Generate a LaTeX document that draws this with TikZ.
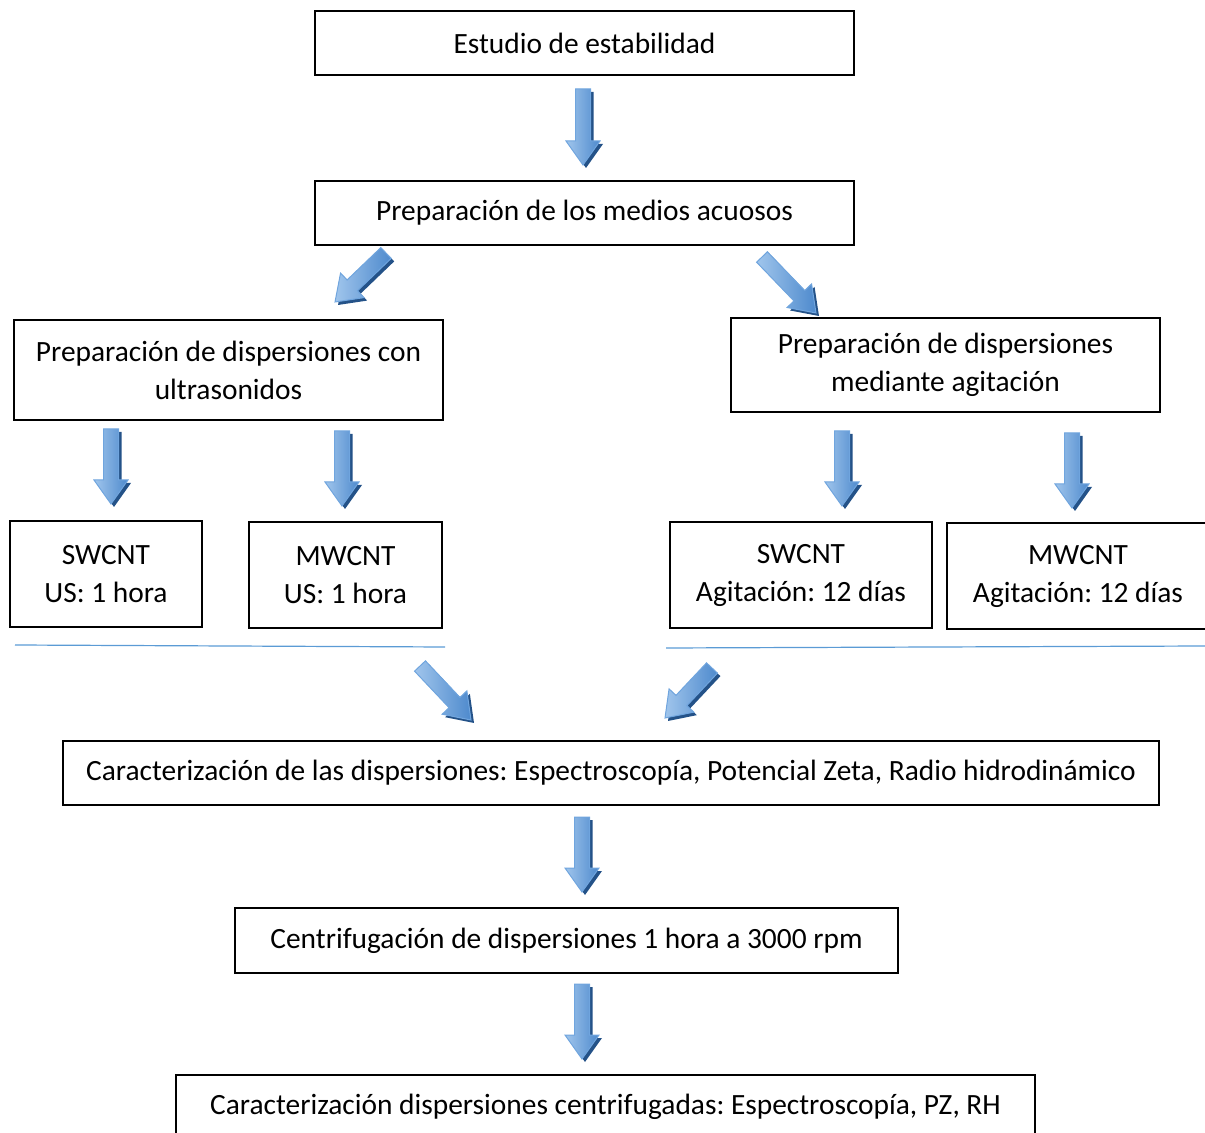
\documentclass[tikz,border=0pt]{standalone}
\usepackage{fontspec}
\setmainfont{Carlito}
\usetikzlibrary{calc}
\frenchspacing

\definecolor{arrowlight}{RGB}{160,197,236}
\definecolor{arrowmid}{RGB}{78,138,205}
\definecolor{arrowedge}{RGB}{112,165,222}
\definecolor{arrowdark}{RGB}{36,82,136}
\definecolor{ruleblue}{RGB}{91,155,213}

\tikzset{
  box/.style={draw, line width=1pt, align=center, inner sep=0pt,
    font=\fontsize{14.7}{19}\selectfont},
  arrowbody/.style={left color=arrowlight, right color=arrowmid, draw=arrowedge, line width=0.5pt},
  arrowshadow/.style={fill=arrowdark},
}

% fat block arrow from tail coordinate #1 to tip coordinate #2
\newcommand{\fatarrow}[2]{%
  \path let \p1=(#1), \p2=(#2),
    \n1={atan2(\y2-\y1,\x2-\x1)}, \n2={veclen(\x2-\x1,\y2-\y1)} in
    \pgfextra{\xdef\arrang{\n1}\xdef\arrlen{\n2}};
  \begin{scope}[shift={(#1)}, xshift=1.5pt, yshift=-1.5pt, rotate=\arrang]
    \path[arrowshadow] (0,-3.75pt) -- (\arrlen-12pt,-3.75pt) -- (\arrlen-12pt,-8.5pt)
      -- (\arrlen,0) -- (\arrlen-12pt,8.5pt) -- (\arrlen-12pt,3.75pt) -- (0,3.75pt) -- cycle;
  \end{scope}
  \begin{scope}[shift={(#1)}, rotate=\arrang]
    \path[arrowbody] (0,-3.75pt) -- (\arrlen-12pt,-3.75pt) -- (\arrlen-12pt,-8.5pt)
      -- (\arrlen,0) -- (\arrlen-12pt,8.5pt) -- (\arrlen-12pt,3.75pt) -- (0,3.75pt) -- cycle;
  \end{scope}
}

\begin{document}
\begin{tikzpicture}[x=0.5pt, y=-0.5pt]

\useasboundingbox (0,0) rectangle (1205,1133);
\clip (0,0) rectangle (1205,1133);

% boxes
\node[box, minimum width=269.5pt, minimum height=32pt] (estudio) at (584.5,43) {Estudio de estabilidad};
\node[box, minimum width=269.5pt, minimum height=32pt] (medios) at (584.5,213) {Preparación de los medios acuosos};
\node[box, minimum width=214.5pt, minimum height=50pt] (ultra) at (228.5,370) {Preparación de dispersiones con\\ultrasonidos};
\node[box, minimum width=214.5pt, minimum height=47pt] (agit) at (945.5,365) {Preparación de dispersiones\\mediante agitación};
\node[box, minimum width=96pt, minimum height=53pt] (swus) at (106,574) {SWCNT\\US: 1 hora};
\node[box, minimum width=96.5pt, minimum height=53pt] (mwus) at (345.5,575) {MWCNT\\US: 1 hora};
\node[box, minimum width=131pt, minimum height=53pt] (swag) at (801,575) {SWCNT\\Agitación: 12 días};
\node[box, minimum width=131pt, minimum height=53pt] (mwag) at (1078,576) {MWCNT\\Agitación: 12 días};
\node[box, minimum width=548pt, minimum height=32pt] (caract) at (611,773) {Caracterización de las dispersiones: Espectroscopía, Potencial Zeta, Radio hidrodinámico};
\node[box, minimum width=331.5pt, minimum height=32.5pt] (centri) at (566.5,940.5) {Centrifugación de dispersiones 1 hora a 3000 rpm};
\node[box, minimum width=429.5pt, minimum height=32pt] (final) at (605.5,1107) {Caracterización dispersiones centrifugadas: Espectroscopía, PZ, RH};

% rules under the four result boxes
\coordinate (L1) at (15,645);
\coordinate (L2) at (445,647);
\coordinate (R1) at (666,648);
\coordinate (R2) at (1205,646);
\draw[ruleblue, line width=0.6pt] (L1) -- (L2);
\draw[ruleblue, line width=0.6pt] (R1) -- (R2);

% arrow tails and tips
\coordinate (t1) at (583,89);   \coordinate (h1) at (583,165);
\coordinate (t2) at (386,253);  \coordinate (h2) at (335,302);
\coordinate (t3) at (762,257);  \coordinate (h3) at (816,313);
\coordinate (t4) at (111,429);  \coordinate (h4) at (111,504);
\coordinate (t5) at (342,431);  \coordinate (h5) at (342,506);
\coordinate (t6) at (842,431);  \coordinate (h6) at (842,506);
\coordinate (t7) at (1072,433); \coordinate (h7) at (1072,508);
\coordinate (t8) at (420,666);  \coordinate (h8) at (471,720);
\coordinate (t9) at (712,668);  \coordinate (h9) at (665,718);
\coordinate (t10) at (582,817); \coordinate (h10) at (582,892);
\coordinate (t11) at (582,984); \coordinate (h11) at (582,1059);

\foreach \i in {1,...,11}
  \fatarrow{t\i}{h\i};

\end{tikzpicture}
\end{document}
